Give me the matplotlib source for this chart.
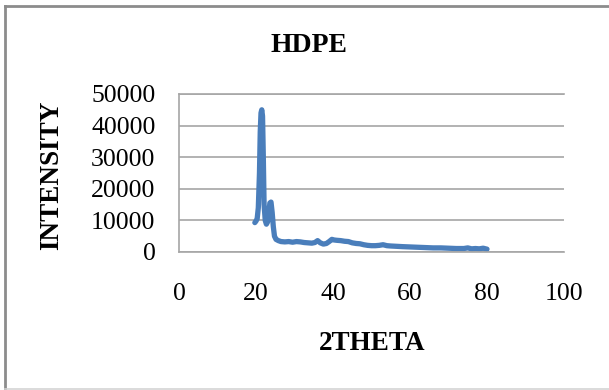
import matplotlib.pyplot as plt
from matplotlib.lines import Line2D

two_theta = [19.7, 20.0, 20.3, 20.6, 20.9, 21.1, 21.3, 21.5, 21.7, 21.9,
             22.1, 22.4, 22.7, 23.0, 23.3, 23.6, 23.9, 24.2, 24.5, 24.8,
             25.2, 25.8, 26.5, 27.5, 28.5, 29.5, 30.5, 31.5, 32.5, 33.5,
             34.5, 35.3, 36.0, 36.7, 37.5, 38.3, 39.0, 39.7, 40.3, 41.0,
             42.0, 43.0, 44.0, 45.0, 46.0, 47.0, 48.0, 49.0, 50.0, 51.0,
             52.0, 53.0, 54.0, 55.0, 56.5, 58.0, 60.0, 62.0, 64.0, 66.0,
             68.0, 70.0, 72.0, 74.0, 75.0, 76.0, 77.0, 78.0, 79.0, 80.0]
intensity = [9300, 9800, 10500, 14000, 25000, 38000, 44000, 45000, 43000, 30000,
             15000, 10000, 8800, 9500, 12000, 15500, 15800, 12500, 8000, 5000,
             4000, 3600, 3300, 3200, 3300, 3100, 3300, 3200, 3000, 2900,
             2800, 3000, 3600, 2900, 2500, 2700, 3300, 4000, 3800, 3700,
             3600, 3400, 3300, 2900, 2700, 2600, 2300, 2100, 2000, 2000,
             2100, 2300, 2000, 1900, 1800, 1700, 1600, 1500, 1400, 1300,
             1300, 1200, 1100, 1100, 1300, 1000, 1100, 1000, 1200, 900]

x_ticks = [0, 20, 40, 60, 80, 100]
y_ticks = [0, 10000, 20000, 30000, 40000, 50000]

plt.rcParams["font.family"] = "Liberation Serif"

W, H = 609, 390
fig = plt.figure(figsize=(W / 100, H / 100), dpi=100)

# outer chart border: dark top/left, light bottom, nothing on the right
fig.lines.append(Line2D([4.5 / W, 4.5 / W], [1 - 389 / H, 1 - 6 / H],
                        transform=fig.transFigure, color="#8c8c8c", linewidth=2))
fig.lines.append(Line2D([4.5 / W, 1], [1 - 6 / H, 1 - 6 / H],
                        transform=fig.transFigure, color="#8c8c8c", linewidth=2))
fig.lines.append(Line2D([4.5 / W, 1], [1 - 389 / H, 1 - 389 / H],
                        transform=fig.transFigure, color="#d4d4d4", linewidth=1.2))

ax = fig.add_axes([179 / W, (H - 252) / H, 385 / W, 158 / H])
ax.plot(two_theta, intensity, color="#4a7ebb", linewidth=3.8,
        solid_joinstyle="round", solid_capstyle="round")

ax.set_xlim(0, 100)
ax.set_ylim(0, 50000)
ax.set_xticks(x_ticks)
ax.set_yticks(y_ticks)
ax.tick_params(length=0, labelsize=18.5)
ax.tick_params(axis="y", pad=17)
ax.tick_params(axis="x", pad=22)
ax.grid(axis="y", color="#a6a6a6", linewidth=1.2)
ax.set_axisbelow(True)
ax.spines["right"].set_visible(False)
for side in ["left", "bottom", "top"]:
    ax.spines[side].set_color("#a6a6a6")
    ax.spines[side].set_linewidth(1.2)

fig.text(309 / W, 1 - 45 / H, "HDPE", ha="center", va="center",
         fontsize=20, fontweight="bold")
fig.text(372 / W, 1 - 343 / H, "2THETA", ha="center", va="center",
         fontsize=19.5, fontweight="bold")
fig.text(52 / W, 1 - 175 / H, "INTENSITY", ha="center", va="center",
         rotation=90, fontsize=19.5, fontweight="bold")

fig.savefig("out.png", dpi=100)
